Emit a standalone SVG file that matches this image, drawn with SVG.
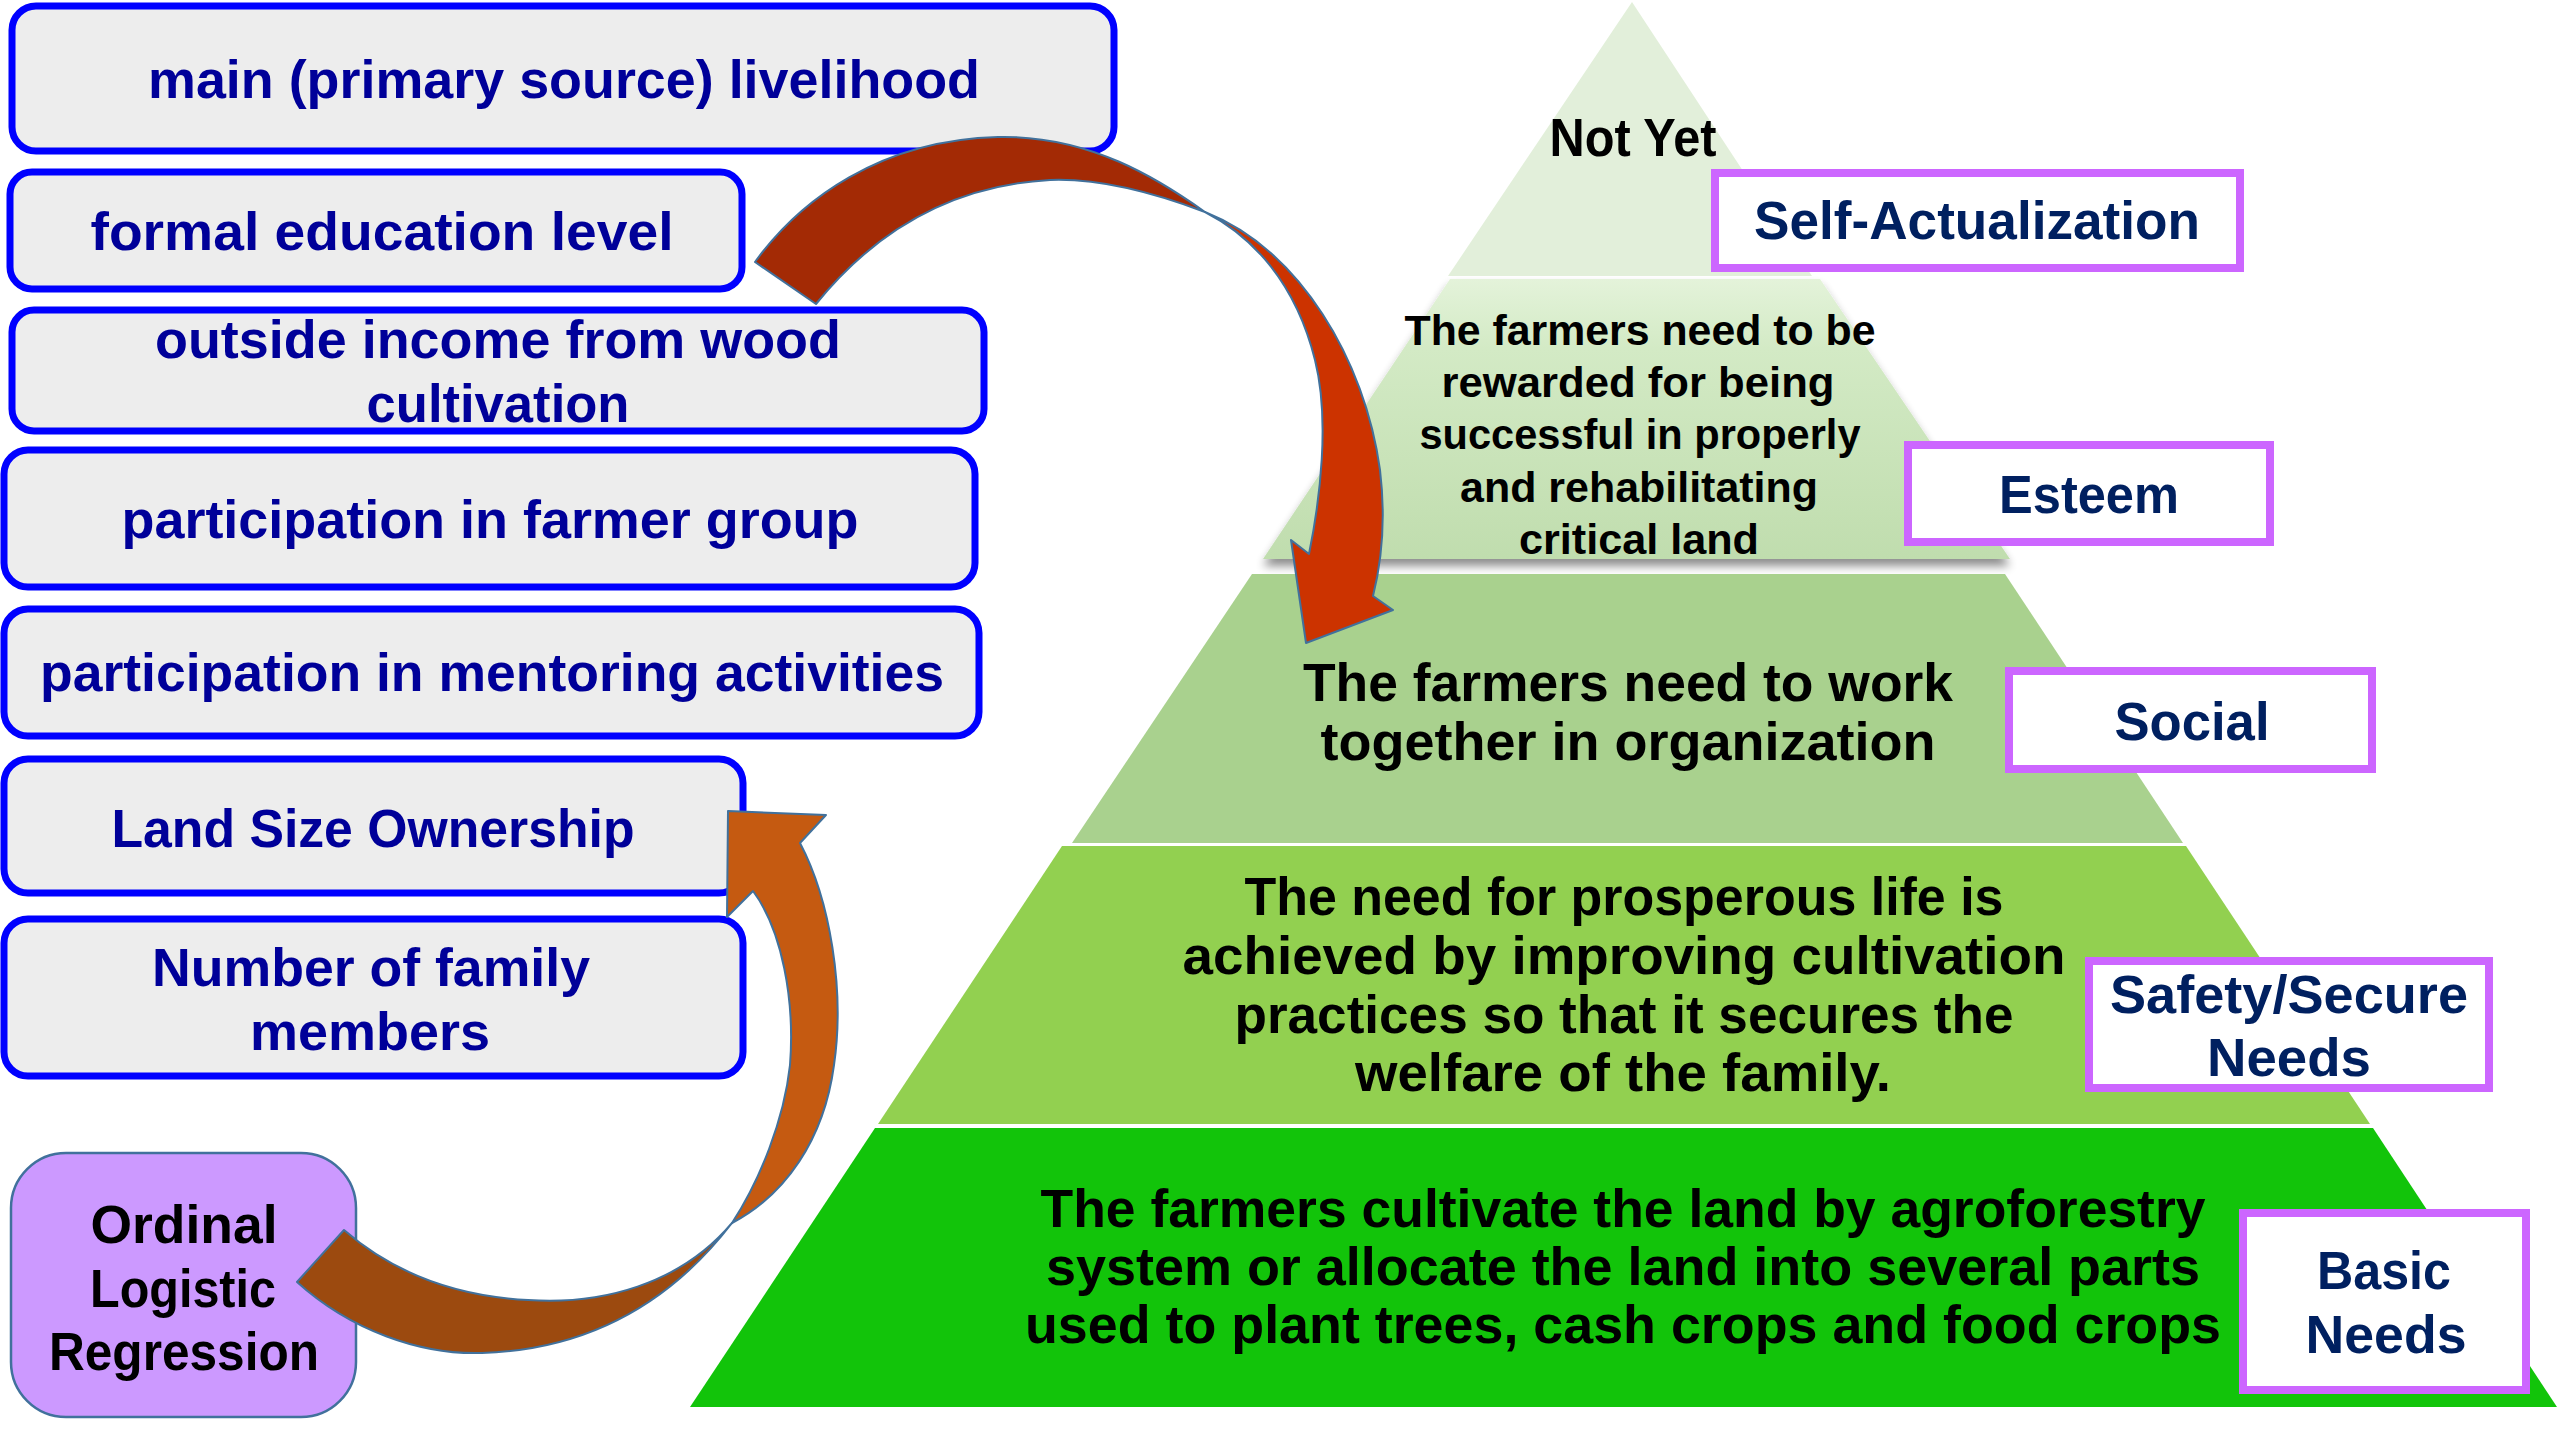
<svg xmlns="http://www.w3.org/2000/svg" width="2560" height="1440" viewBox="0 0 2560 1440">
  <defs>
    <style>
      .factor rect { fill: #EDEDED; stroke: #0000FF; stroke-width: 7; }
      .factor text { font-family: "Liberation Sans", Arial, sans-serif; font-weight: bold; font-size: 54px; fill: #000099; text-anchor: middle; }
      .level text { font-family: "Liberation Sans", Arial, sans-serif; font-weight: bold; font-size: 54px; fill: #000000; text-anchor: middle; }
      .level text.small { font-size: 42px; }
      .tag rect { fill: #FFFFFF; stroke: #CC66FF; stroke-width: 8; }
      .tag text { font-family: "Liberation Sans", Arial, sans-serif; font-weight: bold; font-size: 54px; fill: #002060; text-anchor: middle; }
      .method rect { fill: #CC99FF; stroke: #41719C; stroke-width: 2.5; }
      .method text { font-family: "Liberation Sans", Arial, sans-serif; font-weight: bold; font-size: 54px; fill: #000000; text-anchor: middle; }
      .arrow path { stroke: #41719C; stroke-width: 2; stroke-linejoin: round; }
    </style>
    <linearGradient id="esteemFill" x1="0" y1="0" x2="0" y2="1">
      <stop offset="0" stop-color="#E4F3DA"/>
      <stop offset="0.25" stop-color="#D3EAC5"/>
      <stop offset="1" stop-color="#C0DDAE"/>
    </linearGradient>
    <filter id="softShadow" x="-10%" y="-10%" width="120%" height="130%">
      <feGaussianBlur in="SourceAlpha" stdDeviation="5"/>
      <feOffset dx="0" dy="7" result="blur"/>
      <feComponentTransfer><feFuncA type="linear" slope="0.45"/></feComponentTransfer>
      <feMerge><feMergeNode/><feMergeNode in="SourceGraphic"/></feMerge>
    </filter>
  </defs>

  <rect x="0" y="0" width="2560" height="1440" fill="#FFFFFF"/>

  <!-- Pyramid of needs -->
  <g id="pyramid">
    <g id="level-self-actualization" class="level">
      <polygon points="1632,2 1812,276 1448,276" fill="#E2EFDA"/>
      <text x="1633" y="156" textLength="167" lengthAdjust="spacingAndGlyphs">Not Yet</text>
    </g>
    <g id="level-esteem" class="level">
      <polygon points="1450,279 1820,279 2010,559 1263,559" fill="url(#esteemFill)" filter="url(#softShadow)"/>
      <text class="small" x="1640" y="345" textLength="471" lengthAdjust="spacingAndGlyphs">The farmers need to be</text>
      <text class="small" x="1638" y="397" textLength="393" lengthAdjust="spacingAndGlyphs">rewarded for being</text>
      <text class="small" x="1640" y="449" textLength="441" lengthAdjust="spacingAndGlyphs">successful in properly</text>
      <text class="small" x="1639" y="502" textLength="358" lengthAdjust="spacingAndGlyphs">and rehabilitating</text>
      <text class="small" x="1639" y="554" textLength="240" lengthAdjust="spacingAndGlyphs">critical land</text>
    </g>
    <g id="level-social" class="level">
      <polygon points="1252,574 2005,574 2183,843 1072,843" fill="#A9D18E"/>
      <text x="1628" y="701" textLength="650" lengthAdjust="spacingAndGlyphs">The farmers need to work</text>
      <text x="1628" y="760" textLength="615" lengthAdjust="spacingAndGlyphs">together in organization</text>
    </g>
    <g id="level-safety" class="level">
      <polygon points="1062,846 2186,846 2370,1124 878,1124" fill="#92D050"/>
      <text x="1624" y="915" textLength="759" lengthAdjust="spacingAndGlyphs">The need for prosperous life is</text>
      <text x="1624" y="974" textLength="883" lengthAdjust="spacingAndGlyphs">achieved by improving cultivation</text>
      <text x="1624" y="1033" textLength="779" lengthAdjust="spacingAndGlyphs">practices so that it secures the</text>
      <text x="1623" y="1091" textLength="536" lengthAdjust="spacingAndGlyphs">welfare of the family.</text>
    </g>
    <g id="level-basic" class="level">
      <polygon points="875,1128 2373,1128 2557,1407 690,1407" fill="#12C40A"/>
      <text x="1623" y="1227" textLength="1165" lengthAdjust="spacingAndGlyphs">The farmers cultivate the land by agroforestry</text>
      <text x="1623" y="1285" textLength="1154" lengthAdjust="spacingAndGlyphs">system or allocate the land into several parts</text>
      <text x="1623" y="1343" textLength="1196" lengthAdjust="spacingAndGlyphs">used to plant trees, cash crops and food crops</text>
    </g>
  </g>

  <!-- Level names -->
  <g id="tag-self-actualization" class="tag">
    <rect x="1715" y="173" width="525" height="95"/>
    <text x="1977" y="239" textLength="446" lengthAdjust="spacingAndGlyphs">Self-Actualization</text>
  </g>
  <g id="tag-esteem" class="tag">
    <rect x="1908" y="445" width="362" height="97"/>
    <text x="2089" y="513" textLength="180" lengthAdjust="spacingAndGlyphs">Esteem</text>
  </g>
  <g id="tag-social" class="tag">
    <rect x="2009" y="671" width="363" height="98"/>
    <text x="2192" y="740" textLength="155" lengthAdjust="spacingAndGlyphs">Social</text>
  </g>
  <g id="tag-safety" class="tag">
    <rect x="2089" y="961" width="400" height="127"/>
    <text x="2289" y="1013" textLength="358" lengthAdjust="spacingAndGlyphs">Safety/Secure</text>
    <text x="2289" y="1076" textLength="164" lengthAdjust="spacingAndGlyphs">Needs</text>
  </g>
  <g id="tag-basic" class="tag">
    <rect x="2243" y="1213" width="283" height="177"/>
    <text x="2384" y="1289" textLength="134" lengthAdjust="spacingAndGlyphs">Basic</text>
    <text x="2386" y="1353" textLength="161" lengthAdjust="spacingAndGlyphs">Needs</text>
  </g>

  <!-- Factor boxes -->
  <g id="factor-livelihood" class="factor">
    <rect x="12" y="6" width="1102" height="145" rx="24"/>
    <text x="564" y="98" textLength="832" lengthAdjust="spacingAndGlyphs">main (primary source) livelihood</text>
  </g>
  <g id="factor-education" class="factor">
    <rect x="10" y="172" width="732" height="117" rx="22"/>
    <text x="382" y="250" textLength="583" lengthAdjust="spacingAndGlyphs">formal education level</text>
  </g>
  <g id="factor-income" class="factor">
    <rect x="12" y="310" width="972" height="121" rx="22"/>
    <text x="498" y="358" textLength="686" lengthAdjust="spacingAndGlyphs">outside income from wood</text>
    <text x="498" y="422" textLength="263" lengthAdjust="spacingAndGlyphs">cultivation</text>
  </g>
  <g id="factor-farmer-group" class="factor">
    <rect x="4" y="450" width="971" height="137" rx="24"/>
    <text x="490" y="538" textLength="737" lengthAdjust="spacingAndGlyphs">participation in farmer group</text>
  </g>
  <g id="factor-mentoring" class="factor">
    <rect x="4" y="609" width="975" height="127" rx="24"/>
    <text x="492" y="691" textLength="904" lengthAdjust="spacingAndGlyphs">participation in mentoring activities</text>
  </g>
  <g id="factor-land-size" class="factor">
    <rect x="4" y="759" width="739" height="134" rx="24"/>
    <text x="373" y="847" textLength="523" lengthAdjust="spacingAndGlyphs">Land Size Ownership</text>
  </g>
  <g id="factor-family" class="factor">
    <rect x="4" y="919" width="739" height="157" rx="24"/>
    <text x="371" y="986" textLength="438" lengthAdjust="spacingAndGlyphs">Number of family</text>
    <text x="370" y="1050" textLength="240" lengthAdjust="spacingAndGlyphs">members</text>
  </g>

  <!-- Analysis method -->
  <g id="method-olr" class="method">
    <rect x="11" y="1153" width="345" height="264" rx="55"/>
    <text x="184" y="1243" textLength="187" lengthAdjust="spacingAndGlyphs">Ordinal</text>
    <text x="183" y="1307" textLength="186" lengthAdjust="spacingAndGlyphs">Logistic</text>
    <text x="184" y="1370" textLength="270" lengthAdjust="spacingAndGlyphs">Regression</text>
  </g>

  <!-- Connectors: curved ribbon arrows -->
  <g id="connectors" class="arrow">
    <!-- regression result feeding back up to the factors -->
    <g id="arrow-olr-to-factors">
      <path d="M732,1223 C680,1285 600,1305 528,1300 C450,1296 390,1270 344,1230 L297,1282 C350,1330 420,1355 482,1353 C580,1350 665,1310 732,1223 Z" fill="#9C4A0F"/>
      <path d="M728,811 L826,815 L800,843 C830,900 845,990 834,1065 C824,1140 785,1195 732,1223 C760,1180 784,1120 790,1065 C795,1000 782,930 753,891 L727,917 Z" fill="#C55A11"/>
    </g>
    <!-- factors leading down into the pyramid -->
    <g id="arrow-factors-to-pyramid">
      <path d="M755,262 C800,200 880,140 998,137 C1090,135 1160,180 1205,212 C1160,195 1100,178 1050,180 C960,185 880,225 816,304 Z" fill="#A32A05"/>
      <path d="M1205,212 C1300,250 1365,360 1380,470 C1386,520 1382,560 1373,596 L1393,610 L1306,643 L1291,540 L1309,554 C1320,500 1330,420 1315,360 C1295,280 1250,235 1205,212 Z" fill="#CC3300"/>
    </g>
  </g>
</svg>
